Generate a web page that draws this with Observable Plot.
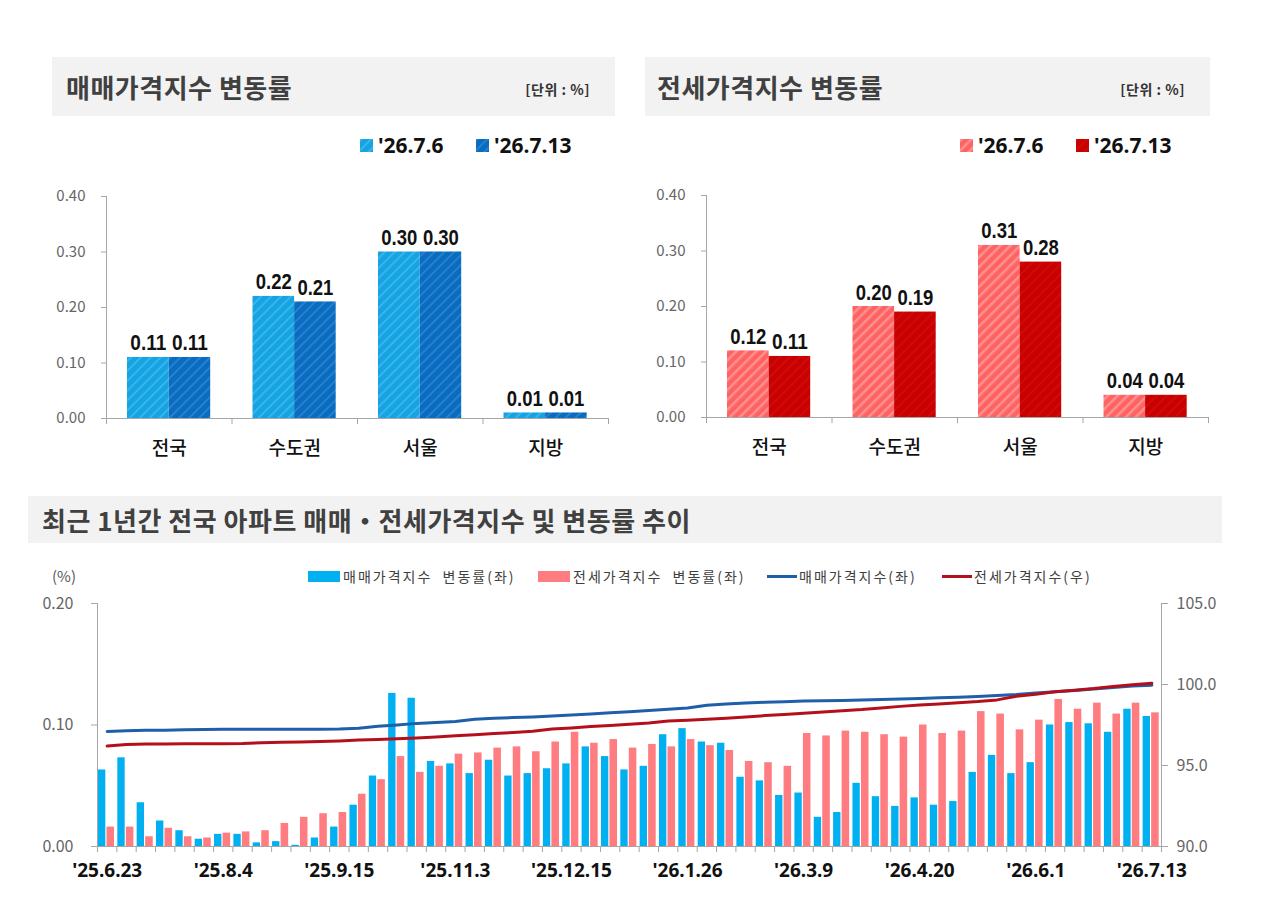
<!DOCTYPE html>
<html><head><meta charset="utf-8">
<script src="https://cdn.jsdelivr.net/npm/d3@7"></script>
<script src="https://cdn.jsdelivr.net/npm/@observablehq/plot@0.6"></script>
<style>
body{margin:0;background:#fff;}
#root{position:relative;width:1280px;height:918px;overflow:hidden;font-family:"Noto Sans CJK KR","Noto Sans",sans-serif;color:#222;}
.hdr{position:absolute;background:#f2f2f2;}
.ttl{position:absolute;top:0;font-weight:700;color:#404040;font-size:26px;letter-spacing:0.5px;white-space:nowrap;}
.unit{position:absolute;top:0;font-weight:700;color:#333;font-size:14px;letter-spacing:0.5px;white-space:nowrap;}
.lg{position:absolute;white-space:nowrap;}
.chart{position:absolute;}
</style></head>
<body>
<div id="root">
<svg width="0" height="0" style="position:absolute">
 <defs>
  <pattern id="pLB" patternUnits="userSpaceOnUse" width="7" height="7" patternTransform="rotate(45)">
   <rect width="7" height="7" fill="#15a3e2"/><rect width="2" height="7" fill="#38b4ec"/></pattern>
  <pattern id="pDB" patternUnits="userSpaceOnUse" width="7" height="7" patternTransform="rotate(45)">
   <rect width="7" height="7" fill="#0a6cc0"/><rect width="2" height="7" fill="#2680cc"/></pattern>
  <pattern id="pLR" patternUnits="userSpaceOnUse" width="7" height="7" patternTransform="rotate(45)">
   <rect width="7" height="7" fill="#ff6262"/><rect width="2.5" height="7" fill="#ff9090"/></pattern>
  <pattern id="pDR" patternUnits="userSpaceOnUse" width="7" height="7" patternTransform="rotate(45)">
   <rect width="7" height="7" fill="#c80000"/><rect width="2" height="7" fill="#d00a0a"/></pattern>
 </defs>
</svg>

<div class="hdr" style="left:52px;top:57px;width:563px;height:59px">
 <span class="ttl" style="left:14px;line-height:59px">매매가격지수 변동률</span>
 <span class="unit" style="right:25px;line-height:64px">[단위 : %]</span>
</div>
<div class="hdr" style="left:645px;top:57px;width:565px;height:59px">
 <span class="ttl" style="left:12px;line-height:59px">전세가격지수 변동률</span>
 <span class="unit" style="right:25px;line-height:64px">[단위 : %]</span>
</div>
<div class="hdr" style="left:28px;top:496px;width:1194px;height:47px">
 <span class="ttl" style="left:14px;line-height:47px">최근 1년간 전국 아파트 매매・전세가격지수 및 변동률 추이</span>
</div>

<div id="legTL"></div>
<div id="legTR"></div>
<div id="legB"></div>

<div id="cTL" class="chart" style="left:0px;top:180px"></div>
<div id="cTR" class="chart" style="left:600px;top:179px"></div>
<div id="cB1" class="chart" style="left:0px;top:590px"></div>
<div id="cB2" class="chart" style="left:0px;top:590px"></div>
</div>

<script>
// ---------- data ----------
const regions = ["전국", "수도권", "서울", "지방"];
const periods = ["'26.7.6", "'26.7.13"];
const saleRatePrev = [0.11, 0.22, 0.30, 0.01];
const saleRateCurr = [0.11, 0.21, 0.30, 0.01];
const jeonseRatePrev = [0.12, 0.20, 0.31, 0.04];
const jeonseRateCurr = [0.11, 0.19, 0.28, 0.04];

const weeks = ["'25.6.23","'25.6.30","'25.7.7","'25.7.14","'25.7.21","'25.7.28","'25.8.4","'25.8.11","'25.8.18","'25.8.25","'25.9.1","'25.9.8","'25.9.15","'25.9.22","'25.9.29","'25.10.13","'25.10.20","'25.10.27","'25.11.3","'25.11.10","'25.11.17","'25.11.24","'25.12.1","'25.12.8","'25.12.15","'25.12.22","'25.12.29","'26.1.5","'26.1.12","'26.1.19","'26.1.26","'26.2.2","'26.2.9","'26.2.16","'26.2.23","'26.3.2","'26.3.9","'26.3.16","'26.3.23","'26.3.30","'26.4.6","'26.4.13","'26.4.20","'26.4.27","'26.5.4","'26.5.11","'26.5.18","'26.5.25","'26.6.1","'26.6.8","'26.6.15","'26.6.22","'26.6.29","'26.7.6","'26.7.13"];
const tickWeeks = ["'25.6.23","'25.8.4","'25.9.15","'25.11.3","'25.12.15","'26.1.26","'26.3.9","'26.4.20","'26.6.1","'26.7.13"];

const saleChange = [0.063,0.073,0.036,0.021,0.013,0.006,0.010,0.010,0.003,0.004,0.001,0.007,0.016,0.034,0.058,0.126,0.122,0.070,0.068,0.060,0.071,0.058,0.060,0.064,0.068,0.082,0.074,0.063,0.066,0.092,0.097,0.086,0.085,0.057,0.054,0.042,0.044,0.024,0.028,0.052,0.041,0.033,0.040,0.034,0.037,0.061,0.075,0.060,0.069,0.100,0.102,0.101,0.094,0.113,0.107];
const jeonseChange = [0.016,0.016,0.008,0.015,0.008,0.007,0.011,0.012,0.013,0.019,0.024,0.027,0.028,0.043,0.055,0.074,0.061,0.066,0.076,0.077,0.081,0.082,0.078,0.086,0.094,0.085,0.088,0.081,0.084,0.082,0.088,0.083,0.079,0.070,0.069,0.066,0.093,0.091,0.095,0.094,0.092,0.090,0.100,0.093,0.095,0.111,0.109,0.096,0.104,0.121,0.113,0.118,0.109,0.118,0.110];
const saleIndex = [97.10,97.15,97.17,97.18,97.20,97.22,97.23,97.24,97.24,97.24,97.24,97.24,97.25,97.30,97.42,97.50,97.60,97.66,97.72,97.85,97.92,97.96,98.00,98.06,98.12,98.18,98.25,98.32,98.40,98.47,98.55,98.72,98.80,98.86,98.90,98.94,98.98,99.00,99.02,99.05,99.08,99.10,99.14,99.18,99.22,99.26,99.32,99.38,99.47,99.55,99.63,99.72,99.82,99.90,99.96];
const jeonseIndex = [96.20,96.30,96.32,96.33,96.34,96.35,96.35,96.36,96.40,96.43,96.45,96.48,96.52,96.57,96.60,96.65,96.70,96.76,96.83,96.90,96.97,97.04,97.12,97.25,97.32,97.40,97.47,97.55,97.63,97.75,97.80,97.86,97.92,98.00,98.08,98.15,98.22,98.30,98.38,98.45,98.55,98.65,98.73,98.80,98.88,98.95,99.05,99.28,99.40,99.55,99.65,99.75,99.88,99.98,100.08];

// ---------- styles ----------
const FONT = '"Noto Sans CJK KR","Noto Sans",sans-serif';
const NUMFONT = '"Liberation Sans",Arial,sans-serif';
const AXIS = "#a6a6a6";

// ---------- legends ----------
function legendTop(el, left, fills) {
  const xs = [left, left + 116];
  el.innerHTML = periods.map((p, i) =>
    `<svg class="lg" style="left:${xs[i]}px;top:139px" width="13" height="13"><rect width="13" height="13" fill="${fills[i]}"/></svg>` +
    `<span class="lg" style="left:${xs[i] + 18}px;top:131px;line-height:28px;font-family:'Noto Sans',sans-serif;font-weight:700;font-size:21px;color:#111">${p}</span>`
  ).join("");
}
legendTop(document.getElementById("legTL"), 360, ["url(#pLB)", "url(#pDB)"]);
legendTop(document.getElementById("legTR"), 960, ["url(#pLR)", "url(#pDR)"]);

const legB = [
  {x: 308, kind: "rect", color: "#00b0f0", label: "매매가격지수  변동률(좌)"},
  {x: 538, kind: "rect", color: "#ff7c80", label: "전세가격지수  변동률(좌)"},
  {x: 767, kind: "line", color: "#1f5faa", label: "매매가격지수(좌)"},
  {x: 942, kind: "line", color: "#b4101c", label: "전세가격지수(우)"}
];
document.getElementById("legB").innerHTML =
  `<span class="lg" style="left:52px;top:565px;line-height:22px;font-size:15px;color:#595959">(%)</span>` +
  legB.map(d =>
    (d.kind === "rect"
      ? `<div class="lg" style="left:${d.x}px;top:571px;width:32px;height:11px;background:${d.color}"></div>`
      : `<div class="lg" style="left:${d.x}px;top:575px;width:30px;height:3px;background:${d.color}"></div>`) +
    `<span class="lg" style="left:${d.x + (d.kind === "rect" ? 35 : 32)}px;top:565px;line-height:22px;font-size:14px;letter-spacing:2px;color:#404040;white-space:pre">${d.label}</span>`
  ).join("");

// ---------- top bar charts ----------
function topChart(prev, curr, fills) {
  const W = 620, H = 290, ML = 106, MR = 12, MT = 16, MB = 52;
  const bw = (W - ML - MR) / regions.length;
  const inL = bw * 21 / 125.5, barW = bw * 41.6 / 125.5;
  const rP = regions.map((r, i) => ({region: r, v: prev[i]}));
  const rC = regions.map((r, i) => ({region: r, v: curr[i]}));
  const lab = {y: "v", x: "region", text: d => d.v.toFixed(2), dy: -7, lineAnchor: "bottom",
    fontSize: 22, fontWeight: "bold", fontFamily: NUMFONT, fill: "#111"};
  const svg = Plot.plot({
    width: W, height: H, marginLeft: ML, marginRight: MR, marginTop: MT, marginBottom: MB,
    style: {background: "transparent", fontFamily: FONT, overflow: "visible"},
    x: {type: "band", domain: regions, padding: 0, round: false},
    y: {domain: [0, 0.4]},
    marks: [
      Plot.barY(rP, {x: "region", y: "v", fill: fills[0], insetLeft: inL, insetRight: bw - inL - barW}),
      Plot.barY(rC, {x: "region", y: "v", fill: fills[1], insetLeft: inL + barW, insetRight: bw - inL - 2 * barW}),
      Plot.text(rP, {...lab, dx: inL + barW / 2 - bw / 2}),
      Plot.text(rC, {...lab, dx: inL + 1.5 * barW - bw / 2}),
      Plot.ruleY([0], {stroke: AXIS}),
      Plot.ruleX([regions[0]], {x: d => d, y1: 0, y2: 0.4, dx: -bw / 2, stroke: AXIS}),
      Plot.ruleX(regions, {x: d => d, y1: 0, y2: -0.011, dx: -bw / 2, stroke: AXIS}),
      Plot.ruleX([regions[regions.length - 1]], {x: d => d, y1: 0, y2: -0.011, dx: bw / 2, stroke: AXIS}),
      Plot.axisY({ticks: [0, 0.1, 0.2, 0.3, 0.4], tickFormat: d3.format(".2f"), tickSize: 5, tickPadding: 16,
        fontSize: 15, fill: "#666", stroke: AXIS, label: null}),
      Plot.axisX({tickSize: 0, tickPadding: 23, fontSize: 19, fontWeight: 500, fill: "#111", label: null})
    ]
  });
  // condensed number labels (like a narrow typeface)
  svg.querySelectorAll('g[aria-label="text"] text').forEach(t => {
    t.setAttribute("textLength", 36);
    t.setAttribute("lengthAdjust", "spacingAndGlyphs");
  });
  return svg;
}
document.getElementById("cTL").append(topChart(saleRatePrev, saleRateCurr, ["url(#pLB)", "url(#pDB)"]));
document.getElementById("cTR").append(topChart(jeonseRatePrev, jeonseRateCurr, ["url(#pLR)", "url(#pDR)"]));

// ---------- bottom combo chart ----------
const rows = weeks.map((w, i) => ({week: w, sale: saleChange[i], jeonse: jeonseChange[i], si: saleIndex[i], ji: jeonseIndex[i]}));
const BW = 1280, BH = 300, BML = 97, BMR = 119, BMT = 13, BMB = 44;
const bw = (BW - BML - BMR) / weeks.length;
const common = {
  width: BW, height: BH, marginLeft: BML, marginRight: BMR, marginTop: BMT, marginBottom: BMB,
  style: {background: "transparent", fontFamily: FONT, overflow: "visible"}
};
const bars = Plot.plot({
  ...common,
  x: {type: "band", domain: weeks, padding: 0, round: false},
  y: {domain: [0, 0.2]},
  marks: [
    Plot.barY(rows, {x: "week", y: "sale", fill: "#00b0f0", insetLeft: bw * 0.05, insetRight: bw * 0.57}),
    Plot.barY(rows, {x: "week", y: "jeonse", fill: "#ff7c80", insetLeft: bw * 0.49, insetRight: bw * 0.12}),
    Plot.ruleY([0], {stroke: AXIS}),
    Plot.ruleX([weeks[0]], {x: d => d, y1: 0, y2: 0.2, dx: -bw / 2, stroke: AXIS}),
    Plot.ruleX(weeks, {x: d => d, y1: 0, y2: -0.005, dx: -bw / 2, stroke: AXIS}),
    Plot.ruleX([weeks[weeks.length - 1]], {x: d => d, y1: 0, y2: -0.005, dx: bw / 2, stroke: AXIS}),
    Plot.axisY({ticks: [0, 0.1, 0.2], tickFormat: d3.format(".2f"), tickSize: 6, tickPadding: 18,
      fontSize: 16, fill: "#666", stroke: AXIS, label: null}),
    Plot.axisX({ticks: tickWeeks, tickSize: 0, tickPadding: 17, fontSize: 19, fontWeight: "bold",
      fontFamily: '"Noto Sans",sans-serif', fill: "#111", label: null})
  ]
});
document.getElementById("cB1").append(bars);

const lines = Plot.plot({
  ...common,
  x: {type: "band", domain: weeks, padding: 0, round: false, axis: null},
  y: {domain: [90, 105]},
  marks: [
    Plot.ruleX([weeks[weeks.length - 1]], {x: d => d, y1: 90, y2: 105, dx: bw / 2, stroke: AXIS}),
    Plot.axisY({anchor: "right", ticks: [90, 95, 100, 105], tickFormat: d3.format(".1f"), tickSize: 6, tickPadding: 9,
      fontSize: 16, fill: "#666", stroke: AXIS, label: null}),
    Plot.line(rows, {x: "week", y: "si", stroke: "#1f5faa", strokeWidth: 3, strokeLinejoin: "round"}),
    Plot.line(rows, {x: "week", y: "ji", stroke: "#b4101c", strokeWidth: 3, strokeLinejoin: "round"})
  ]
});
document.getElementById("cB2").append(lines);
</script>
</body></html>
